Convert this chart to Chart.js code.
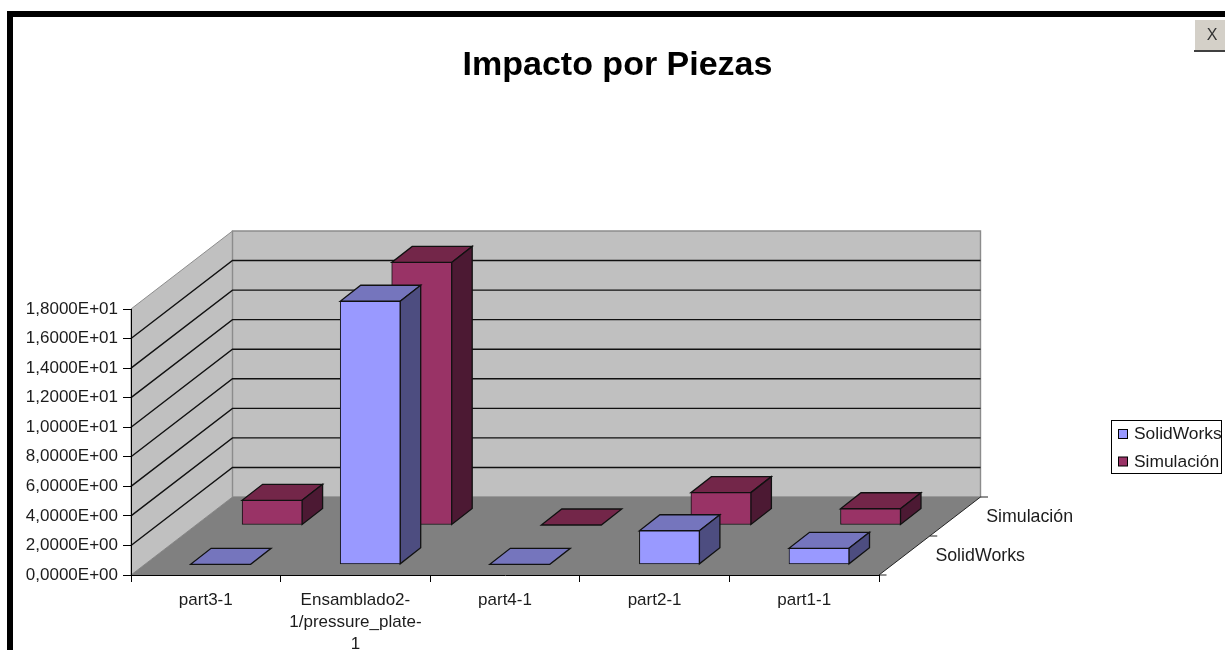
<!DOCTYPE html>
<html>
<head>
<meta charset="utf-8">
<title>Impacto por Piezas</title>
<script src="https://cdn.jsdelivr.net/npm/chart.js@4"></script>
<style>
    html, body { margin: 0; padding: 0; background: #fff; overflow: hidden; }
    canvas { display: block; }
</style>
</head>
<body>
<canvas id="impactChart" width="1225" height="650"></canvas>
<script>
const chartTitle = 'Impacto por Piezas';
const categories = ['part3-1', ['Ensamblado2-', '1/pressure_plate-', '1'], 'part4-1', 'part2-1', 'part1-1'];
const seriesNames = ['SolidWorks', 'Simulación'];
const solidWorksValues = [0, 17.8, 0, 2.27, 1.08];
const simulacionValues = [1.67, 17.77, 0, 2.19, 1.1];
const yTickLabels = ['0,0000E+00', '2,0000E+00', '4,0000E+00', '6,0000E+00', '8,0000E+00',
    '1,0000E+01', '1,2000E+01', '1,4000E+01', '1,6000E+01', '1,8000E+01'];

const FONT = '"Liberation Sans", Arial, sans-serif';
const TEXT = '#1c1c1c';
// floor depth of the fake 3D box
const DEPTH = { x: 101.5, y: 78 };
const BAR_DEPTH = { x: 20.5, y: 16 };
const SERIES_SHIFT = [{ x: 14.8, y: 10.7 }, { x: 66.3, y: 50 }];
const FACES = [
    { front: '#9999FF', top: '#7575BD', side: '#4D4D80' },
    { front: '#993366', top: '#732649', side: '#4C1933' }
];

function poly(ctx, pts, fill, stroke, lw) {
    ctx.beginPath();
    pts.forEach((p, i) => i ? ctx.lineTo(p[0], p[1]) : ctx.moveTo(p[0], p[1]));
    ctx.closePath();
    if (fill) { ctx.fillStyle = fill; ctx.fill(); }
    if (stroke) { ctx.strokeStyle = stroke; ctx.lineWidth = lw || 1; ctx.stroke(); }
}

const box3d = {
    id: 'box3d',
    beforeDraw(chart) {
        const { ctx, chartArea: a, scales } = chart;
        const y = scales.y;
        const bx = a.left + DEPTH.x, br = a.right + DEPTH.x;
        const yTop = y.getPixelForValue(y.max), yZero = y.getPixelForValue(0);

        ctx.save();
        // window frame
        ctx.fillStyle = '#000';
        ctx.fillRect(7, 11, 1218, 6);
        ctx.fillRect(7, 11, 6, 639);

        // walls and floor
        poly(ctx, [[a.left, yZero], [bx, yZero - DEPTH.y], [bx, yTop - DEPTH.y], [a.left, yTop]], '#C0C0C0', '#8c8c8c');
        poly(ctx, [[bx, yZero - DEPTH.y], [br, yZero - DEPTH.y], [br, yTop - DEPTH.y], [bx, yTop - DEPTH.y]], '#C0C0C0', '#8c8c8c', 1.4);
        poly(ctx, [[a.left, yZero], [a.right, yZero], [br, yZero - DEPTH.y], [bx, yZero - DEPTH.y]], '#808080');

        // gridlines run over the side wall and along the back wall
        ctx.strokeStyle = '#111';
        ctx.lineWidth = 1.4;
        y.ticks.forEach(t => {
            if (t.value === y.min || t.value === y.max) return;
            const py = y.getPixelForValue(t.value);
            ctx.beginPath();
            ctx.moveTo(a.left, py);
            ctx.lineTo(bx, py - DEPTH.y);
            ctx.lineTo(br, py - DEPTH.y);
            ctx.stroke();
        });

        // depth axis on the right side of the floor
        ctx.strokeStyle = '#222';
        ctx.lineWidth = 1;
        ctx.beginPath();
        ctx.moveTo(a.right, yZero);
        ctx.lineTo(br, yZero - DEPTH.y);
        [0, 0.5, 1].forEach(f => {
            const tx = a.right + f * DEPTH.x, ty = yZero - f * DEPTH.y;
            ctx.moveTo(tx, ty);
            ctx.lineTo(tx + 7.5, ty);
        });
        ctx.stroke();
        ctx.fillStyle = TEXT;
        ctx.font = '17.8px ' + FONT;
        ctx.textAlign = 'left';
        ctx.textBaseline = 'middle';
        seriesNames.forEach((name, i) => {
            const f = (i + 0.5) / seriesNames.length;
            ctx.fillText(name, a.right + f * DEPTH.x + 31, yZero - f * DEPTH.y + 1);
        });
        ctx.restore();
    },
    beforeDatasetDraw(chart, args) {
        const ctx = chart.ctx;
        const shift = SERIES_SHIFT[args.index];
        const faces = FACES[args.index];
        ctx.save();
        ctx.translate(shift.x, -shift.y);
        args.meta.data.forEach(bar => {
            const l = bar.x - bar.width / 2, r = bar.x + bar.width / 2;
            const dx = BAR_DEPTH.x, dy = BAR_DEPTH.y;
            poly(ctx, [[l, bar.y], [r, bar.y], [r + dx, bar.y - dy], [l + dx, bar.y - dy]], faces.top, '#111', 1.3);
            if (bar.base - bar.y > 0.5) {
                poly(ctx, [[r, bar.y], [r + dx, bar.y - dy], [r + dx, bar.base - dy], [r, bar.base]], faces.side, '#111', 1.3);
            }
        });
    },
    afterDatasetDraw(chart) {
        chart.ctx.restore();
    },
    afterDraw(chart) {
        const ctx = chart.ctx;
        ctx.save();
        // legend
        ctx.fillStyle = '#fff';
        ctx.fillRect(1111.5, 420.5, 110, 53);
        ctx.strokeStyle = '#000';
        ctx.lineWidth = 1;
        ctx.strokeRect(1111.5, 420.5, 110, 53);
        ctx.font = '17.4px ' + FONT;
        ctx.textAlign = 'left';
        ctx.textBaseline = 'middle';
        chart.data.datasets.forEach((ds, i) => {
            const rowY = 434 + i * 27.5;
            ctx.fillStyle = ds.backgroundColor;
            ctx.fillRect(1118.5, rowY - 4.5, 9, 9);
            ctx.strokeStyle = '#000';
            ctx.strokeRect(1118.5, rowY - 4.5, 9, 9);
            ctx.fillStyle = TEXT;
            ctx.fillText(ds.label, 1134, rowY + 0.5);
        });
        // close button of the window
        ctx.fillStyle = '#D4D0C8';
        ctx.fillRect(1195, 20, 30, 30);
        ctx.fillStyle = '#404040';
        ctx.fillRect(1194, 50, 31, 2);
        ctx.fillStyle = '#333';
        ctx.font = '16px ' + FONT;
        ctx.textAlign = 'center';
        ctx.fillText('X', 1212, 36);
        ctx.restore();
    }
};

new Chart(document.getElementById('impactChart'), {
    type: 'bar',
    data: {
        labels: categories,
        datasets: [
            { label: seriesNames[0], data: solidWorksValues, backgroundColor: FACES[0].front },
            { label: seriesNames[1], data: simulacionValues, backgroundColor: FACES[1].front }
        ]
    },
    options: {
        responsive: false,
        animation: false,
        layout: { padding: { left: 10, right: 0, top: 0, bottom: 0 } },
        datasets: {
            bar: {
                grouped: false,
                barThickness: 60,
                borderColor: '#111',
                borderWidth: 1,
                borderSkipped: false,
                clip: false
            }
        },
        plugins: {
            legend: { display: false },
            title: {
                display: true,
                text: chartTitle,
                color: '#000',
                font: { family: FONT, size: 34, weight: 'bold', lineHeight: '40px' },
                padding: { top: 46, bottom: 223 }
            }
        },
        scales: {
            x: {
                afterFit(scale) { scale.height = 75; },
                grid: { drawOnChartArea: false, offset: true, color: '#000', tickLength: 7 },
                border: { color: '#000' },
                ticks: {
                    color: TEXT,
                    autoSkip: false,
                    maxRotation: 0,
                    padding: 7,
                    font: { family: FONT, size: 17, lineHeight: '22px' }
                }
            },
            y: {
                min: 0,
                max: 18,
                afterFit(scale) { scale.width = 121; },
                grid: { drawOnChartArea: false, color: '#000', tickLength: 8 },
                border: { color: '#000' },
                ticks: {
                    stepSize: 2,
                    color: TEXT,
                    padding: 5,
                    font: { family: FONT, size: 17 },
                    callback: (value, index) => yTickLabels[index]
                }
            },
            // only reserves the space right of the plot, the depth labels are drawn with the box
            depth: {
                axis: 'y',
                type: 'category',
                position: 'right',
                labels: seriesNames,
                afterFit(scale) { scale.width = 346; },
                grid: { display: false },
                border: { display: false },
                ticks: { display: false }
            }
        }
    },
    plugins: [box3d]
});
</script>
</body>
</html>
